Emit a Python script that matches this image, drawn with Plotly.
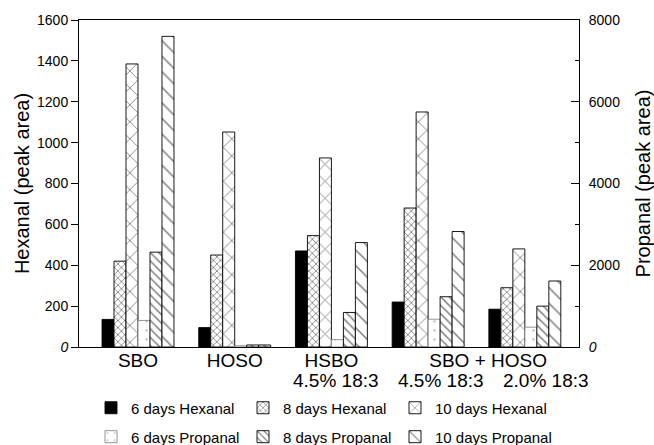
import plotly.graph_objects as go

# ---------------- data ----------------
categories = ["SBO", "HOSO", "HSBO 4.5% 18:3", "SBO + HOSO 4.5% 18:3", "SBO + HOSO 2.0% 18:3"]
hex_6d = [135, 95, 470, 220, 185]
hex_8d = [420, 450, 545, 680, 290]
hex_10d = [1385, 1052, 925, 1150, 480]
prop_6d = [650, 30, 180, 680, 485]
prop_8d = [2320, 50, 845, 1230, 1000]
prop_10d = [7600, 50, 2555, 2825, 1615]

series_names = ["6 days Hexanal", "8 days Hexanal", "10 days Hexanal",
                "6 days Propanal", "8 days Propanal", "10 days Propanal"]

tick_main = ["SBO", "HOSO", "HSBO", "SBO + HOSO"]
tick_main_pos = [0, 1, 2, 3.62]
sub_labels = ["4.5% 18:3", "4.5% 18:3", "2.0% 18:3"]
sub_label_pos = [2, 3, 4]
sub_label_shift = [5, 13, 21]

left_ticks = [0, 200, 400, 600, 800, 1000, 1200, 1400, 1600]
right_ticks = [0, 2000, 4000, 6000, 8000]

# ---------------- figure ----------------
FONT = "Liberation Sans, Arial, sans-serif"
x_idx = list(range(len(categories)))
bw = 0.124
start = -3 * bw

styles = [
    dict(color="black", pattern=dict(shape="")),
    dict(color="white", pattern=dict(shape="x", size=5, solidity=0.3, fgcolor="black")),
    dict(color="white", pattern=dict(shape="x", size=12, solidity=0.14, fgcolor="black")),
    dict(color="white", pattern=dict(shape=".", size=9, solidity=0.05, fgcolor="#777")),
    dict(color="white", pattern=dict(shape="\\", size=6, solidity=0.25, fgcolor="black")),
    dict(color="white", pattern=dict(shape="\\", size=11, solidity=0.14, fgcolor="black")),
]
values = [hex_6d, hex_8d, hex_10d, prop_6d, prop_8d, prop_10d]
legend_widths = [107, 107, 135, 107, 107, 135]

fig = go.Figure()
for i, (name, vals, st) in enumerate(zip(series_names, values, styles)):
    is_prop = i >= 3
    fig.add_trace(go.Bar(
        x=x_idx, y=vals, name=name,
        width=bw, offset=start + i * bw,
        yaxis="y2" if is_prop else "y",
        legend="legend2" if is_prop else "legend",
        legendwidth=legend_widths[i],
        marker=dict(color=st["color"], pattern=st["pattern"],
                    line=dict(color="#888" if i == 3 else "black", width=0.9)),
    ))

annotations = []
for txt, xp, xs in zip(sub_labels, sub_label_pos, sub_label_shift):
    annotations.append(dict(x=xp, y=0, xref="x", yref="paper", text=txt,
                            showarrow=False, xanchor="center", yanchor="top",
                            yshift=-21, xshift=xs,
                            font=dict(family=FONT, size=19, color="black")))

fig.update_layout(
    width=654, height=445,
    margin=dict(l=79, r=75, t=20, b=98, autoexpand=False),
    paper_bgcolor="white", plot_bgcolor="white",
    barmode="overlay",
    font=dict(family=FONT, color="black"),
    showlegend=True,
    xaxis=dict(
        range=[-0.61, 4.56], tickvals=tick_main_pos, ticktext=tick_main,
        showline=True, linecolor="black", linewidth=1, mirror=True,
        ticks="", showgrid=False, zeroline=False, ticklabelstandoff=-4,
        tickfont=dict(family=FONT, size=19, color="black"),
    ),
    yaxis=dict(
        range=[0, 1600], tickvals=left_ticks,
        ticktext=["<i>0</i>"] + [str(v) for v in left_ticks[1:]],
        showline=True, linecolor="black", linewidth=1,
        ticks="outside", ticklen=7, tickcolor="black",
        showgrid=False, zeroline=False,
        tickfont=dict(family=FONT, size=14, color="black"),
        title=dict(text="Hexanal (peak area)", standoff=2,
                   font=dict(family=FONT, size=20, color="black")),
    ),
    yaxis2=dict(
        range=[0, 8000], overlaying="y", side="right",
        tickvals=right_ticks,
        ticktext=["<i>0</i>"] + [str(v) for v in right_ticks[1:]],
        showline=True, linecolor="black", linewidth=1,
        ticks="inside", ticklen=8, tickcolor="black",
        minor=dict(dtick=1000, ticks="inside", ticklen=4, tickcolor="black"),
        ticklabelstandoff=6,
        showgrid=False, zeroline=False,
        tickfont=dict(family=FONT, size=14, color="black"),
        title=dict(text="Propanal (peak area)", standoff=24,
                   font=dict(family=FONT, size=20, color="black")),
    ),
    legend=dict(orientation="h", x=0.024, xanchor="left", y=-0.1865, yanchor="middle",
                entrywidthmode="pixels", bgcolor="rgba(0,0,0,0)",
                font=dict(family=FONT, size=15, color="black"), traceorder="normal"),
    legend2=dict(orientation="h", x=0.024, xanchor="left", y=-0.275, yanchor="middle",
                 entrywidthmode="pixels", bgcolor="rgba(0,0,0,0)",
                 font=dict(family=FONT, size=15, color="black"), traceorder="normal"),
    annotations=annotations,
)

fig.write_html("out.html")
